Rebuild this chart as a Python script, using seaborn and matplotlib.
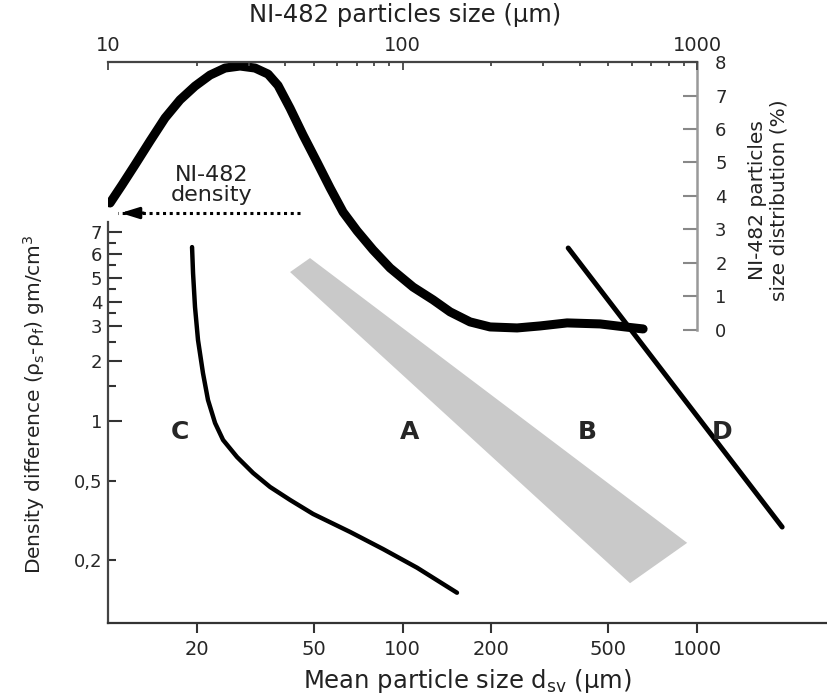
import numpy as np
import pandas as pd
import matplotlib
matplotlib.use("Agg")
import matplotlib.pyplot as plt
from matplotlib.ticker import FixedLocator, FixedFormatter, NullLocator
import seaborn as sns

# size distribution of NI-482 particles (top / right axes)
dist_size = [10.16, 11.16, 12.35, 13.89, 15.62, 17.56, 19.74, 22.20, 24.96, 28.07,
             31.56, 34.94, 37.78, 41.50, 45.93, 51.24, 56.75, 62.81, 70.05, 79.39,
             90.71, 108.6, 126.9, 145.0, 169.5, 198.2, 244.8, 293.1, 361.9, 468.5,
             569.6, 655.6]
dist_pct = [3.79, 4.33, 4.93, 5.64, 6.33, 6.87, 7.28, 7.61, 7.82, 7.88,
            7.82, 7.64, 7.30, 6.62, 5.82, 5.01, 4.24, 3.52, 2.96, 2.39,
            1.85, 1.28, 0.90, 0.54, 0.24, 0.09, 0.06, 0.12, 0.21, 0.18,
            0.09, 0.03]

# C / A boundary
c_size = [19.29, 19.44, 19.74, 20.21, 21.01, 21.85, 23.09, 24.58, 27.42, 31.08,
          35.49, 41.50, 49.67, 66.3, 85.9, 112, 153]
c_dens = [6.30, 5.19, 3.77, 2.55, 1.74, 1.275, 0.977, 0.803, 0.659, 0.548,
          0.466, 0.401, 0.341, 0.277, 0.227, 0.183, 0.137]

# A / B boundary band (grey)
band_size = [41.5, 48.5, 925, 592]
band_dens = [5.23, 5.82, 0.244, 0.153]

# B / D boundary
d_size = [365, 1944]
d_dens = [6.26, 0.293]

# group labels
group_names = ["C", "A", "B", "D"]
group_size = [17.6, 106, 423, 1216]
group_dens = [0.88, 0.88, 0.88, 0.88]

# NI-482 density arrow
arrow_size = [44.9, 10.8]
arrow_dens = [7.99, 7.99]

bottom_ticks = [20, 50, 100, 200, 500, 1000]
left_major = [1, 2, 3, 4, 5, 6, 7]
left_minor = [0.2, 0.5, 1.5, 2.5, 3.5, 4.5, 5.5, 6.5]
left_minor_labels = ["0,2", "0,5", "", "", "", "", "", ""]
right_ticks = [0, 1, 2, 3, 4, 5, 6, 7, 8]
top_major = [10, 100, 1000]
top_minor = [20, 30, 40, 50, 60, 70, 80, 90, 200, 300, 400, 500, 600, 700, 800, 900]

# the density axis is logarithmic up to 3, the hand-drawn top (4..7) is a bit stretched
scale_logs = np.array([-3, np.log10(3), np.log10(4), np.log10(5), np.log10(6), np.log10(7), 3])
scale_pos = np.array([-3, np.log10(3), 0.598, 0.719, 0.839, 0.950, 4.527])


def dens_forward(v):
    v = np.clip(np.asarray(v, dtype=float), 1e-3, 1e3)
    return np.interp(np.log10(v), scale_logs, scale_pos)


def dens_inverse(t):
    return 10 ** np.interp(np.asarray(t, dtype=float), scale_pos, scale_logs)


sns.set_theme(style="white")
plt.rcParams["font.family"] = ["DejaVu Sans"]

XLIM = (10, 2760)
YLIM = (0.0965, 22.9)

fig = plt.figure(figsize=(8.27, 7), dpi=100)
ax = fig.add_axes([0.1306, 0.11, 0.8694, 0.8014])
ax.set_xscale("log")
ax.set_yscale("function", functions=(dens_forward, dens_inverse))

# grey band between A and B
ax.fill(band_size, band_dens, color="#c9c9c9", lw=0, zorder=1)

sns.lineplot(x=c_size, y=c_dens, sort=False, ax=ax, color="black", lw=3.2, zorder=3)
sns.lineplot(x=d_size, y=d_dens, sort=False, ax=ax, color="black", lw=3.6, zorder=3)

for name, sx, sy in zip(group_names, group_size, group_dens):
    ax.text(sx, sy, name, fontsize=18, fontweight="bold", ha="center", va="center")

# density arrow
ax.plot(arrow_size, arrow_dens, color="black", lw=2.2, ls=(0, (1, 1.2)), clip_on=False)
ax.annotate("", xy=(arrow_size[1], arrow_dens[1]), xytext=(13.5, arrow_dens[1]),
            arrowprops=dict(arrowstyle="-|>,head_length=0.9,head_width=0.28",
                            color="black", lw=2.2), annotation_clip=False)
ax.text(22.5, 9.7, "NI-482\ndensity", fontsize=16, ha="center", va="center",
        linespacing=1.0, color="#222222")

ax.set_xlim(*XLIM)
ax.set_ylim(*YLIM)

ax.xaxis.set_major_locator(FixedLocator(bottom_ticks))
ax.xaxis.set_major_formatter(FixedFormatter([str(t) for t in bottom_ticks]))
ax.xaxis.set_minor_locator(NullLocator())
ax.yaxis.set_major_locator(FixedLocator(left_major))
ax.yaxis.set_major_formatter(FixedFormatter([str(t) for t in left_major]))
ax.yaxis.set_minor_locator(FixedLocator(left_minor))
ax.yaxis.set_minor_formatter(FixedFormatter(left_minor_labels))

ax.tick_params(axis="x", which="major", direction="out", length=7, width=1.5,
               color="#333333", labelsize=14, pad=5, bottom=True)
ax.tick_params(axis="y", which="major", direction="in", length=10, width=1.5,
               color="#333333", labelsize=13, pad=4, left=True)
ax.tick_params(axis="y", which="minor", direction="in", length=6, width=1.5,
               color="#333333", labelsize=13, pad=4, left=True)

for side in ["top", "right"]:
    ax.spines[side].set_visible(False)
ax.spines["left"].set_bounds(YLIM[0], 7.5)
ax.spines["left"].set_color("#444444")
ax.spines["bottom"].set_color("#333333")
ax.spines["left"].set_linewidth(1.6)
ax.spines["bottom"].set_linewidth(1.6)

ax.set_xlabel(r"Mean particle size d$_\mathregular{sv}$ (µm)", fontsize=17.5, labelpad=6,
              color="#222222")
ax.set_ylabel(r"Density difference (ρ$_\mathregular{s}$-ρ$_\mathregular{f}$) gm/cm$^\mathregular{3}$",
              fontsize=14.5, color="#222222")
ax.yaxis.set_label_coords(-0.085, 0.39)

# right axis: size distribution (%)
ax_r = ax.twinx()
sns.lineplot(x=dist_size, y=dist_pct, sort=False, ax=ax_r, color="black", lw=6.5,
             zorder=4, solid_capstyle="round", solid_joinstyle="round")
ax_r.set_xlim(*XLIM)
ax_r.set_ylim(-8.75, 8)
ax_r.yaxis.set_major_locator(FixedLocator(right_ticks))
ax_r.tick_params(axis="y", direction="in", length=10, width=1.5, color="#888888",
                 labelsize=13, pad=13)
for side in ["top", "left", "bottom"]:
    ax_r.spines[side].set_visible(False)
ax_r.spines["right"].set_position(("data", 1000))
ax_r.spines["right"].set_bounds(0, 8)
ax_r.spines["right"].set_color("#999999")
ax_r.spines["right"].set_linewidth(1.8)
ax_r.set_ylabel("NI-482 particles\nsize distribution (%)", fontsize=14.5, color="#222222")
ax_r.yaxis.set_label_coords(0.89, 0.754)

# top axis: NI-482 particle size
ax_t = ax.twiny()
ax_t.set_xscale("log")
ax_t.set_xlim(*XLIM)
ax_t.xaxis.set_major_locator(FixedLocator(top_major))
ax_t.xaxis.set_major_formatter(FixedFormatter([str(t) for t in top_major]))
ax_t.xaxis.set_minor_locator(FixedLocator(top_minor))
ax_t.tick_params(axis="x", which="major", direction="in", length=6, width=1.3,
                 color="#444444", labelsize=14, pad=5)
ax_t.tick_params(axis="x", which="minor", direction="in", length=3, width=1.3,
                 color="#444444")
for side in ["bottom", "left", "right"]:
    ax_t.spines[side].set_visible(False)
ax_t.spines["top"].set_bounds(10, 1000)
ax_t.spines["top"].set_color("#444444")
ax_t.spines["top"].set_linewidth(1.6)
ax_t.set_xlabel("NI-482 particles size (µm)", fontsize=17.5, color="#222222")
ax_t.xaxis.set_label_coords(0.413, 1.071)

fig.savefig("out.png", dpi=100)
